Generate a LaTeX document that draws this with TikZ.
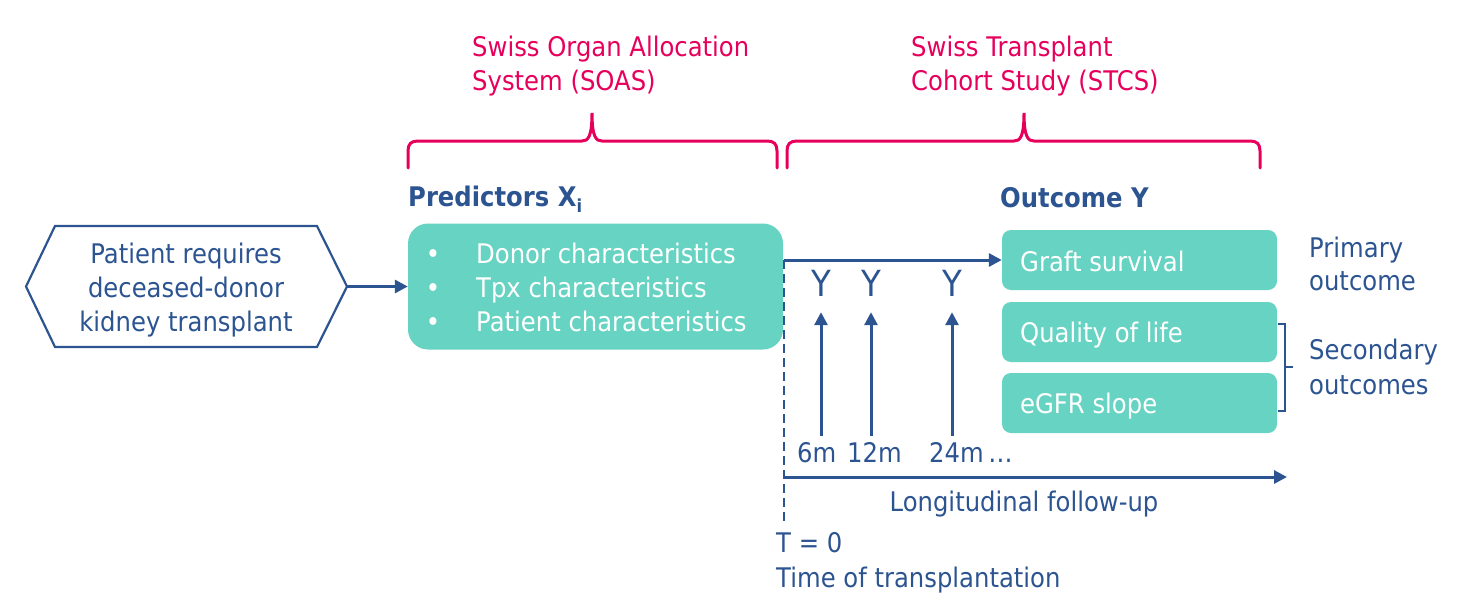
\documentclass[tikz,border=0pt]{standalone}
\usepackage{fontspec}
\setmainfont{DejaVu Sans}[FakeStretch=0.9]
\usetikzlibrary{arrows.meta}
\definecolor{dblue}{RGB}{44,84,145}
\definecolor{pinkc}{RGB}{230,0,92}
\definecolor{tealc}{RGB}{103,211,194}
\begin{document}
\begin{tikzpicture}[x=1pt,y=-1pt,
  font=\fontsize{27}{34}\selectfont,
  tbox/.style={fill=tealc, draw=none, inner sep=0pt},
  wtxt/.style={text=white, inner sep=0pt, anchor=base west},
  btxt/.style={text=dblue, inner sep=0pt, anchor=base west},
  ctxt/.style={text=dblue, inner sep=0pt, anchor=base},
  ptxt/.style={text=pinkc, inner sep=0pt, anchor=base west},
  arr/.style={draw=dblue, line width=3pt, -{Triangle[length=13pt,width=13pt]}},
  bracep/.style={draw=pinkc, line width=3pt, line cap=round},
  dashline/.style={draw=dblue, line width=2.5pt, dash pattern=on 9pt off 5pt}
]
\useasboundingbox (0,0) rectangle (1466,603);

% pink headings
\node[ptxt] (soas1) at (472,56) {Swiss Organ Allocation};
\node[ptxt] (soas2) at (472,90) {System (SOAS)};
\node[ptxt] (stcs1) at (911,56) {Swiss Transplant};
\node[ptxt] (stcs2) at (911,90) {Cohort Study (STCS)};

% braces
\draw[bracep] (408,168) -- (408,151) .. controls (408,144) and (411,141) .. (418,141)
  -- (582,141) .. controls (588,141) and (592,137) .. (592,113)
  .. controls (592,137) and (596,141) .. (602,141)
  -- (767,141) .. controls (774,141) and (777,144) .. (777,151) -- (777,168);
\draw[bracep] (787,168) -- (787,151) .. controls (787,144) and (790,141) .. (797,141)
  -- (1014,141) .. controls (1020,141) and (1024,137) .. (1024,113)
  .. controls (1024,137) and (1028,141) .. (1034,141)
  -- (1250,141) .. controls (1257,141) and (1260,144) .. (1260,151) -- (1260,168);

% bold headings
\node[btxt, font=\fontsize{27}{34}\selectfont\bfseries] (predh) at (408,206)
  {Predictors X\raisebox{-6pt}{\fontsize{18}{18}\selectfont i}};
\node[btxt, font=\fontsize{27}{34}\selectfont\bfseries] (outh) at (1000,207) {Outcome Y};

% hexagon
\draw[dblue, line width=2.2pt, line join=miter] (26,286.5) -- (55,226) -- (317,226) -- (347,286.5)
  -- (317,347) -- (55,347) -- cycle;
\coordinate (hexR) at (347,286.5);
\node[ctxt] (h1) at (186,263) {Patient requires};
\node[ctxt] (h2) at (186,297) {deceased-donor};
\node[ctxt] (h3) at (186,331) {kidney transplant};

% predictors box
\node[tbox, rounded corners=20pt, minimum width=375pt, minimum height=126pt] (pred) at (595.5,286.5) {};
\node[text=white, inner sep=0pt, anchor=base] (b1) at (433,263) {•};
\node[text=white, inner sep=0pt, anchor=base] (b2) at (433,297) {•};
\node[text=white, inner sep=0pt, anchor=base] (b3) at (433,331) {•};
\node[wtxt] (p1) at (476,263) {Donor characteristics};
\node[wtxt] (p2) at (476,297) {Tpx characteristics};
\node[wtxt] (p3) at (476,331) {Patient characteristics};

\draw[arr] (hexR) -- (pred.west);

% outcome boxes
\node[tbox, rounded corners=9pt, minimum width=275pt, minimum height=60pt] (graft) at (1139.5,260) {};
\node[tbox, rounded corners=9pt, minimum width=275pt, minimum height=60pt] (qol) at (1139.5,332) {};
\node[tbox, rounded corners=9pt, minimum width=275pt, minimum height=60pt] (egfr) at (1139.5,403) {};
\node[wtxt] (gt) at (1020,271) {Graft survival};
\node[wtxt] (qt) at (1020,342) {Quality of life};
\node[wtxt] (et) at (1020,413) {eGFR slope};

% right labels
\node[btxt] (pr1) at (1309,257) {Primary};
\node[btxt] (pr2) at (1309,290) {outcome};
\node[btxt] (se1) at (1309,359) {Secondary};
\node[btxt] (se2) at (1309,394) {outcomes};
\draw[dblue, line width=2pt] (1278,324) -- (1285,324) -- (1285,411) -- (1278,411);
\draw[dblue, line width=2pt] (1285,367) -- (1293,367);

% time zero
\coordinate (t0) at (784,260);
\coordinate (tbot) at (784,521);
\draw[arr] (t0) -- (graft.west);
\draw[dashline] (t0) -- (tbot);

% Y measurements
\node[ctxt, font=\fontsize{36}{40}\selectfont] (y1) at (821,296) {Y};
\node[ctxt, font=\fontsize{36}{40}\selectfont] (y2) at (871,296) {Y};
\node[ctxt, font=\fontsize{36}{40}\selectfont] (y3) at (952,296) {Y};
\node[btxt] (m1) at (797,462) {6m};
\node[btxt] (m2) at (847,462) {12m};
\node[btxt] (m3) at (929,462) {24m\,…};
\coordinate (a1) at (821,436);
\coordinate (a2) at (871,436);
\coordinate (a3) at (952,436);
\draw[arr] (a1) -- ([yshift=-16pt]y1.south);
\draw[arr] (a2) -- ([yshift=-16pt]y2.south);
\draw[arr] (a3) -- ([yshift=-16pt]y3.south);

% longitudinal
\coordinate (l0) at (785,477);
\coordinate (l1) at (1287,477);
\draw[arr] (l0) -- (l1);
\node[ctxt] (lf) at (1024,511) {Longitudinal follow-up};
\node[btxt] (tz) at (776,552) {T = 0};
\node[btxt] (tt) at (776,587) {Time of transplantation};
\end{tikzpicture}
\end{document}
